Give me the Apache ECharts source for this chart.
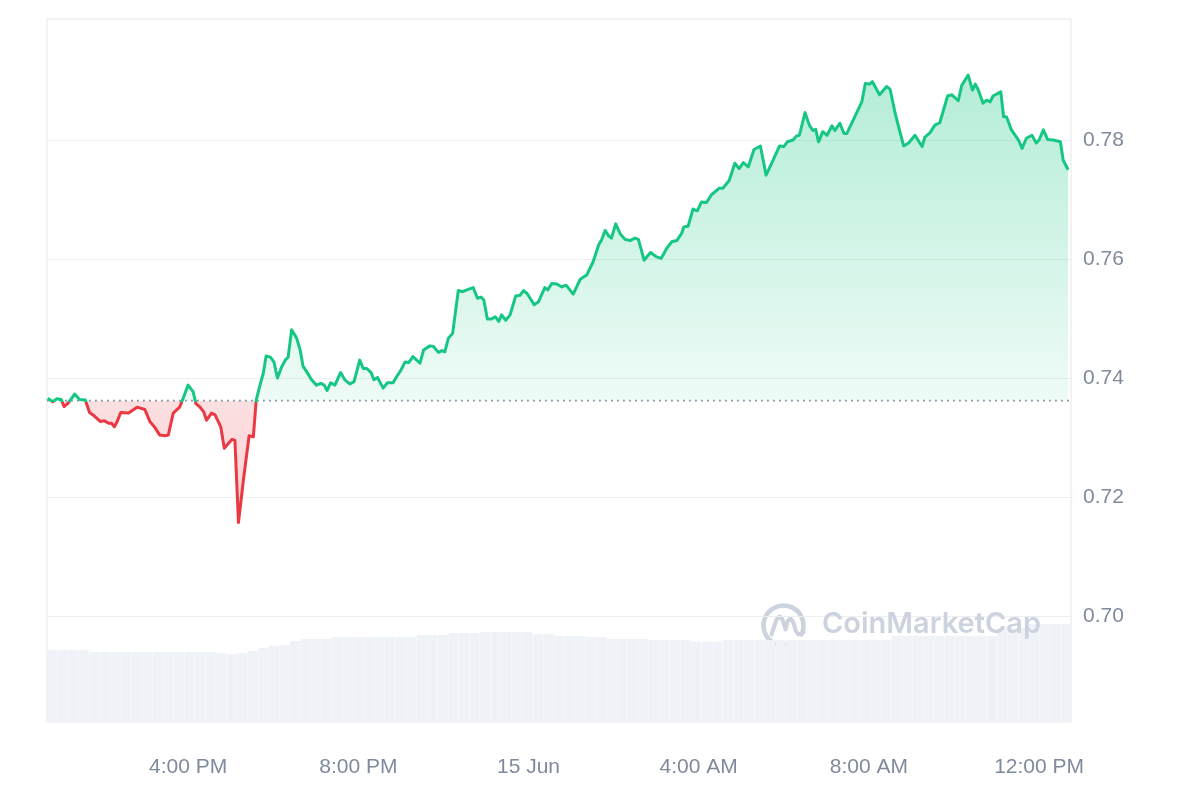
<!DOCTYPE html>
<html>
<head>
<meta charset="utf-8">
<style>
  html, body { margin: 0; padding: 0; background: #fff; }
  #chart { width: 1200px; height: 800px; }
</style>
<script src="https://cdn.jsdelivr.net/npm/echarts@6/dist/echarts.min.js"></script>
</head>
<body>
<div id="chart"></div>
<script>
// Price samples: minutes since 00:00 on 14 Jun, and price in USD
const priceTimes = [762,769,775,781,785,791,800,807,815,821,826,836,842,848,852,856,860,865,876,888,899,906,913,920,928,932,939,948,953,960,967,971,976,982,986,993,998,1006,1011,1022,1026,1031,1038,1046,1052,1056,1062,1066,1070,1076,1081,1086,1092,1097,1101,1106,1113,1118,1122,1128,1134,1141,1147,1152,1156,1161,1167,1175,1181,1188,1194,1202,1207,1212,1218,1222,1227,1235,1241,1249,1254,1260,1266,1271,1277,1287,1292,1301,1306,1313,1318,1322,1327,1333,1341,1347,1355,1362,1368,1373,1377,1382,1388,1393,1398,1402,1408,1414,1422,1428,1433,1438,1448,1454,1463,1467,1473,1480,1487,1493,1503,1513,1522,1531,1539,1543,1548,1553,1557,1563,1569,1576,1583,1590,1595,1603,1612,1620,1627,1635,1642,1649,1656,1659,1665,1672,1678,1684,1691,1698,1709,1714,1723,1731,1737,1743,1750,1758,1767,1775,1783,1794,1800,1805,1813,1818,1822,1830,1836,1841,1845,1849,1855,1861,1868,1872,1879,1885,1889,1898,1910,1915,1921,1925,1935,1945,1950,1957,1963,1969,1976,1985,1995,1999,2006,2013,2020,2031,2037,2039,2046,2051,2060,2066,2070,2074,2081,2086,2091,2095,2106,2110,2114,2121,2131,2136,2142,2150,2156,2160,2166,2172,2180,2190,2194,2201];
const prices = [0.7366,0.7360,0.7365,0.7364,0.7352,0.7358,0.7373,0.7364,0.7363,0.7342,0.7338,0.7327,0.7328,0.7324,0.7324,0.7318,0.7327,0.7342,0.7341,0.7351,0.7347,0.7327,0.7317,0.7304,0.7303,0.7304,0.7341,0.7351,0.7366,0.7388,0.7377,0.7357,0.7352,0.7343,0.7329,0.7341,0.7338,0.7318,0.7282,0.7297,0.7295,0.7157,0.7229,0.7303,0.7301,0.7363,0.7391,0.7408,0.7437,0.7435,0.7427,0.7400,0.7419,0.7430,0.7435,0.7481,0.7467,0.7447,0.7420,0.7409,0.7397,0.7388,0.7391,0.7388,0.7379,0.7392,0.7388,0.7409,0.7397,0.7390,0.7394,0.7430,0.7416,0.7416,0.7409,0.7397,0.7401,0.7383,0.7392,0.7392,0.7402,0.7413,0.7427,0.7426,0.7436,0.7425,0.7447,0.7454,0.7453,0.7443,0.7446,0.7444,0.7467,0.7475,0.7547,0.7545,0.7549,0.7552,0.7534,0.7536,0.7531,0.7499,0.7499,0.7503,0.7495,0.7506,0.7497,0.7506,0.7538,0.7539,0.7547,0.7542,0.7523,0.7528,0.7552,0.7548,0.7559,0.7558,0.7553,0.7556,0.7541,0.7566,0.7573,0.7595,0.7624,0.7632,0.7648,0.7639,0.7635,0.7659,0.7643,0.7633,0.7631,0.7635,0.7633,0.7598,0.7611,0.7604,0.7601,0.7618,0.7629,0.7631,0.7643,0.7654,0.7655,0.7684,0.7681,0.7696,0.7695,0.7708,0.7719,0.7719,0.7732,0.7761,0.7752,0.7762,0.7755,0.7784,0.7790,0.7741,0.7761,0.7790,0.7789,0.7797,0.7800,0.7807,0.7808,0.7846,0.7825,0.7816,0.7818,0.7797,0.7814,0.7808,0.7824,0.7816,0.7828,0.7811,0.7811,0.7834,0.7864,0.7895,0.7894,0.7898,0.7876,0.7890,0.7885,0.7845,0.7817,0.7790,0.7795,0.7808,0.7789,0.7805,0.7812,0.7825,0.7829,0.7874,0.7876,0.7879,0.7866,0.7892,0.7909,0.7884,0.7894,0.7885,0.7862,0.7867,0.7864,0.7874,0.7881,0.7839,0.7839,0.7817,0.7800,0.7786,0.7803,0.7808,0.7795,0.7800,0.7817,0.7801,0.7800,0.7797,0.7766,0.7750];
// Opening (reference) price: dotted baseline
const basePrice = 0.7362;
// Volume bars (15-minute buckets), volume in millions USD
const volTimes = [765,780,795,810,825,840,855,870,885,900,915,930,945,960,975,990,1005,1020,1035,1050,1065,1080,1095,1110,1125,1140,1155,1170,1185,1200,1215,1230,1245,1260,1275,1290,1305,1320,1335,1350,1365,1380,1395,1410,1425,1440,1455,1470,1485,1500,1515,1530,1545,1560,1575,1590,1605,1620,1635,1650,1665,1680,1695,1710,1725,1740,1755,1770,1785,1800,1815,1830,1845,1860,1875,1890,1905,1920,1935,1950,1965,1980,1995,2010,2025,2040,2055,2070,2085,2100,2115,2130,2145,2160,2175,2190,2205];
const volumes = [10.24,10.24,10.24,10.24,9.96,9.96,9.96,9.96,9.96,9.96,9.96,9.96,9.96,9.96,9.96,9.96,9.82,9.67,9.82,10.10,10.53,10.81,10.95,11.52,11.81,11.81,11.81,12.09,12.09,12.09,12.09,12.09,12.09,12.09,12.09,12.38,12.38,12.38,12.66,12.66,12.66,12.80,12.80,12.80,12.80,12.80,12.52,12.52,12.23,12.23,12.23,12.09,12.09,11.81,11.81,11.81,11.81,11.66,11.66,11.66,11.66,11.45,11.45,11.45,11.66,11.66,11.66,11.66,11.66,11.66,11.66,11.66,11.66,11.66,11.66,11.66,11.66,11.66,11.66,11.66,12.23,12.23,12.23,12.23,12.23,12.23,12.23,12.23,12.23,12.23,13.37,13.37,13.37,13.94,13.94,13.94,13.94];
// X tick labels (minutes since 00:00 14 Jun) and Y tick labels
const xTickValues = [960, 1200, 1440, 1680, 1920, 2160];
const xTickLabels = ['4:00 PM', '8:00 PM', '15 Jun', '4:00 AM', '8:00 AM', '12:00 PM'];
const yTickValues = [0.70, 0.72, 0.74, 0.76, 0.78];

const X_MIN = 761, X_MAX = 2205;
const GREEN = '#16c784';
const RED = '#ea3943';
const LABEL_COLOR = '#808a9d';
const FONT = '"Liberation Sans", Arial, Helvetica, sans-serif';

const priceData = priceTimes.map((t, i) => [t, prices[i]]);
const baseData = [[X_MIN, basePrice], [X_MAX, basePrice]];

// where the opening price sits inside the line's vertical span (0 = top, 1 = bottom)
const maxP = Math.max.apply(null, prices);
const minP = Math.min.apply(null, prices);
const splitOff = (maxP - basePrice) / (maxP - minP);

const lineGradient = new echarts.graphic.LinearGradient(0, 0, 0, 1, [
  { offset: 0, color: GREEN },
  { offset: splitOff, color: GREEN },
  { offset: splitOff, color: RED },
  { offset: 1, color: RED }
]);
const areaGradient = new echarts.graphic.LinearGradient(0, 0, 0, 1, [
  { offset: 0, color: 'rgba(22,199,132,0.32)' },
  { offset: splitOff, color: 'rgba(22,199,132,0.07)' },
  { offset: splitOff, color: 'rgba(234,57,67,0.16)' },
  { offset: 1, color: 'rgba(234,57,67,0.22)' }
]);

const chart = echarts.init(document.getElementById('chart'), null, { renderer: 'canvas' });
const wmColor = '#cdd3de';

chart.setOption({
  animation: false,
  backgroundColor: '#ffffff',
  grid: {
    left: 47, right: 129, top: 19, bottom: 78,
    show: true, borderColor: '#e6e6e6', borderWidth: 1, backgroundColor: 'transparent'
  },
  xAxis: [
    {
      type: 'value',
      min: X_MIN, max: X_MAX,
      axisLine: { show: false },
      axisTick: { show: false, customValues: xTickValues },
      splitLine: { show: false },
      axisLabel: {
        customValues: xTickValues,
        margin: 35,
        color: LABEL_COLOR,
        fontSize: 21,
        fontFamily: FONT,
        formatter: function (v) {
          const i = xTickValues.indexOf(v);
          return i >= 0 ? xTickLabels[i] : '';
        }
      }
    },
    {
      type: 'category',
      data: volTimes.map(String),
      boundaryGap: true,
      show: false
    }
  ],
  yAxis: [
    {
      type: 'value',
      position: 'right',
      min: 0.68218, max: 0.80034,
      axisLine: { show: false },
      axisTick: { show: false, customValues: yTickValues },
      splitLine: { show: true, lineStyle: { color: '#eeeeee', width: 1 } },
      axisLabel: {
        customValues: yTickValues,
        margin: 12,
        color: LABEL_COLOR,
        fontSize: 21,
        fontFamily: FONT,
        formatter: function (v) { return v.toFixed(2); }
      }
    },
    {
      type: 'value',
      min: 0, max: 100,
      show: false,
      splitLine: { show: false }
    }
  ],
  graphic: [
    {
      type: 'group',
      left: 761, top: 603,
      z: 10,
      children: [
        {
          type: 'arc',
          shape: { cx: 23, cy: 23, r: 20, startAngle: 1.25, endAngle: 6.75 },
          style: { stroke: wmColor, lineWidth: 4.5, fill: 'none', lineCap: 'round' }
        },
        {
          type: 'polyline',
          shape: { points: [[11, 32], [16, 17], [19, 14], [22, 17], [25, 27], [27, 19], [30, 16], [33, 20], [35, 28], [38, 32], [43, 30]] },
          style: { stroke: wmColor, lineWidth: 4, fill: 'none', lineJoin: 'round', lineCap: 'round' }
        }
      ]
    },
    {
      type: 'text',
      left: 822, top: 610,
      z: 10,
      style: {
        text: 'CoinMarketCap',
        font: '600 29px Inter, "Noto Sans", sans-serif',
        fill: wmColor
      }
    }
  ],
  series: [
    {
      name: 'Volume',
      type: 'bar',
      xAxisIndex: 1,
      yAxisIndex: 1,
      data: volumes,
      barWidth: '96%',
      itemStyle: { color: '#eff2f6' },
      silent: true,
      z: 1
    },
    {
      name: 'Open',
      type: 'line',
      xAxisIndex: 0,
      yAxisIndex: 0,
      data: baseData,
      showSymbol: false,
      symbol: 'none',
      silent: true,
      lineStyle: { color: '#868ea1', type: [1.8, 4.2], width: 1.8 },
      z: 2
    },
    {
      name: 'Price',
      type: 'line',
      xAxisIndex: 0,
      yAxisIndex: 0,
      data: priceData,
      showSymbol: false,
      symbol: 'none',
      smooth: false,
      lineStyle: { width: 3, color: lineGradient, join: 'round' },
      itemStyle: { color: GREEN },
      areaStyle: {
        origin: basePrice,
        opacity: 1,
        color: areaGradient
      },
      z: 3
    }
  ]
});
</script>
</body>
</html>
